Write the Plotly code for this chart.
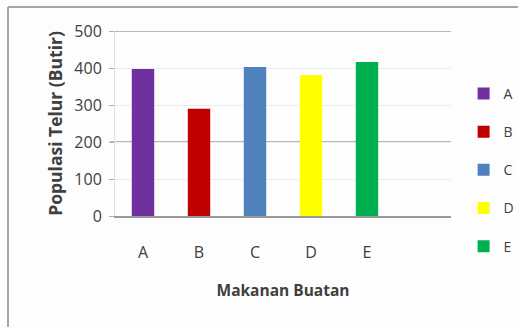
import plotly.graph_objects as go

categories = ["A", "B", "C", "D", "E"]
populasi = [397, 290, 403, 381, 416]
colors = ["#7030A0", "#C00000", "#4F81BD", "#FFFF00", "#00B050"]
y_ticks = [0, 100, 200, 300, 400, 500]

font_family = "Open Sans, Lato, sans-serif"
text_color = "#404040"

fig = go.Figure()
for cat, val, col in zip(categories, populasi, colors):
    fig.add_trace(go.Bar(
        x=[cat], y=[val], name=cat, marker_color=col, width=0.4,
        legendgroup=cat, marker_line_width=0,
    ))

# Plot area geometry (pixels) used for the outer frame shapes
W, H = 518, 327
ml, mr, mt, mb = 115, 67, 31, 111
pw, ph = W - ml - mr, H - mt - mb

def px_x(x):
    return (x - ml) / pw

def px_y(y):
    return (H - mb - y) / ph

shapes = [
    # outer chart frame: left and top edges
    dict(type="line", xref="paper", yref="paper", x0=px_x(8), x1=px_x(8),
         y0=px_y(H + 5), y1=px_y(7), line=dict(color="#a6a6a6", width=2)),
    dict(type="line", xref="paper", yref="paper", x0=px_x(8), x1=px_x(W + 5),
         y0=px_y(7), y1=px_y(7), line=dict(color="#a6a6a6", width=2)),
]
# darker gridlines at 200 and 500
for yv in (200, 500):
    shapes.append(dict(type="line", xref="paper", yref="y", x0=px_x(110), x1=1,
                       y0=yv, y1=yv, line=dict(color="#a0a0a0", width=1.5),
                       layer="below"))

fig.update_layout(
    width=W, height=H,
    margin=dict(l=ml, r=mr, t=mt, b=mb),
    paper_bgcolor="#fdfdfd", plot_bgcolor="#fdfdfd",
    font=dict(family=font_family, color=text_color, size=16),
    barmode="overlay",
    showlegend=True,
    legend=dict(xref="container", yref="container", x=0.895, y=0.762,
                xanchor="left", yanchor="top", maxheight=320,
                tracegroupgap=17, font=dict(size=14), bgcolor="rgba(0,0,0,0)"),
    xaxis=dict(
        categoryorder="array", categoryarray=categories,
        range=[-0.5, 5.5], showgrid=False, ticks="",
        showline=True, linecolor="#9a9a9a", linewidth=1.5,
        ticklabelstandoff=21, tickfont=dict(size=16),
        title=dict(text="<b>Makanan Buatan</b>", standoff=23, font=dict(size=15.5)),
        fixedrange=True,
    ),
    yaxis=dict(
        range=[0, 500], tickvals=y_ticks,
        showgrid=True, gridcolor="#ececec", gridwidth=1,
        showline=True, linecolor="#e0e0e0", linewidth=1,
        ticks="outside", ticklen=5, tickcolor="#b0b0b0",
        ticklabelstandoff=4, tickfont=dict(size=16),
        title=dict(text="<b>Populasi Telur (Butir)</b>", standoff=7, font=dict(size=17.5)),
        zeroline=False,
        fixedrange=True,
    ),
    shapes=shapes,
)

fig.write_html("out.html")
